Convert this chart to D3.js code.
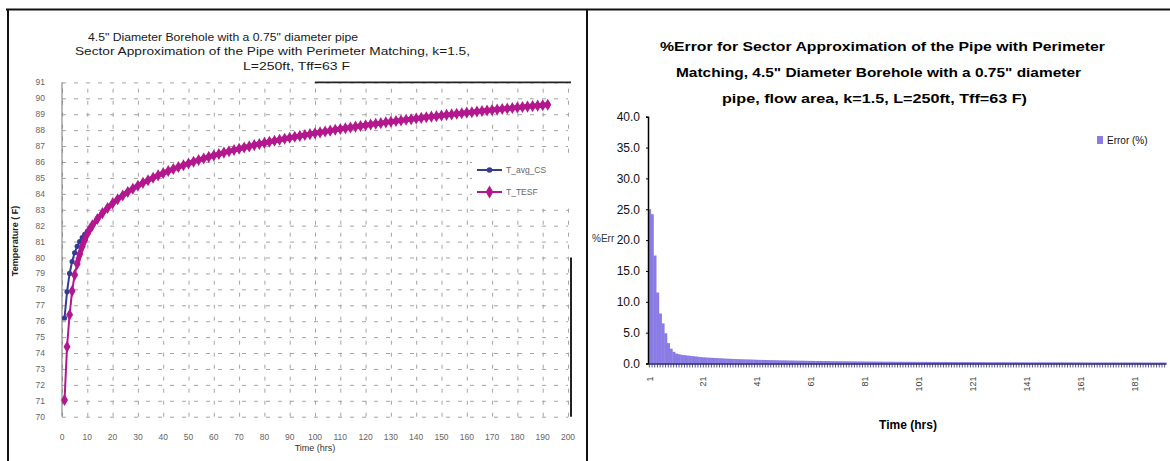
<!DOCTYPE html>
<html>
<head>
<meta charset="utf-8">
<script src="https://cdn.jsdelivr.net/npm/d3@7"></script>
<style>
    body { margin: 0; background: #fff; }
    svg { display: block; font-family: "Liberation Sans", Arial, sans-serif; }
</style>
</head>
<body>
<svg id="chart" width="1170" height="461"></svg>
<script>
// left chart: borehole temperature vs time
var tempHours = [1, 2, 3, 4, 5, 6, 7, 8, 9, 10, 11, 12].concat(d3.range(14, 193, 2));

var tAvgCS = [
    76.2, 77.85, 79.0, 79.75, 80.3, 80.7, 81.0, 81.25, 81.45, 81.65, 81.85, 82.05,
    82.45, 82.81, 83.13, 83.42, 83.68, 83.92, 84.14, 84.34, 84.53, 84.71,
    84.87, 85.03, 85.18, 85.32, 85.45, 85.58, 85.70, 85.82, 85.93, 86.04,
    86.14, 86.24, 86.34, 86.43, 86.52, 86.61, 86.69, 86.77, 86.85, 86.93,
    87.00, 87.08, 87.15, 87.22, 87.29, 87.35, 87.42, 87.48, 87.54, 87.60,
    87.66, 87.72, 87.77, 87.83, 87.88, 87.94, 87.99, 88.04, 88.09, 88.14,
    88.19, 88.24, 88.28, 88.33, 88.37, 88.42, 88.46, 88.51, 88.55, 88.59,
    88.63, 88.67, 88.71, 88.75, 88.79, 88.83, 88.87, 88.90, 88.94, 88.98,
    89.01, 89.05, 89.08, 89.12, 89.15, 89.19, 89.22, 89.25, 89.28, 89.32,
    89.35, 89.38, 89.41, 89.44, 89.47, 89.50, 89.53, 89.56, 89.59, 89.62
];

var tTesf = [
    71.05, 74.4, 76.4, 77.9, 78.9, 79.6, 80.2, 80.7, 81.1, 81.5, 81.78, 82.02,
    82.42, 82.79, 83.11, 83.40, 83.66, 83.90, 84.12, 84.32, 84.51, 84.69,
    84.85, 85.01, 85.16, 85.30, 85.43, 85.56, 85.68, 85.80, 85.91, 86.02,
    86.12, 86.22, 86.32, 86.41, 86.50, 86.59, 86.67, 86.75, 86.83, 86.91,
    86.98, 87.06, 87.13, 87.20, 87.27, 87.33, 87.40, 87.46, 87.52, 87.58,
    87.64, 87.70, 87.75, 87.81, 87.86, 87.92, 87.97, 88.02, 88.07, 88.12,
    88.17, 88.22, 88.26, 88.31, 88.35, 88.40, 88.44, 88.49, 88.53, 88.57,
    88.61, 88.65, 88.69, 88.73, 88.77, 88.81, 88.85, 88.88, 88.92, 88.96,
    88.99, 89.03, 89.06, 89.10, 89.13, 89.17, 89.20, 89.23, 89.26, 89.30,
    89.33, 89.36, 89.39, 89.42, 89.45, 89.48, 89.51, 89.54, 89.57, 89.60
];

var tempTicks = [70, 71, 72, 73, 74, 75, 76, 77, 78, 79, 80, 81, 82, 83, 84, 85, 86, 87, 88, 89, 90, 91];
var timeTicks = [0, 10, 20, 30, 40, 50, 60, 70, 80, 90, 100, 110, 120, 130, 140, 150, 160, 170, 180, 190, 200];
var tempSeries = ["T_avg_CS", "T_TESF"];

// right chart: % error per hour
var errValues = [
    25.0, 24.2, 17.5, 11.5, 8.1, 6.5, 4.9, 3.3, 2.4, 1.9, 1.6, 1.5, 1.4, 1.35, 1.3, 1.25, 1.2, 1.15, 1.1, 1.05,
    1.0, 0.98, 0.95, 0.92, 0.9, 0.88, 0.85, 0.83, 0.8, 0.78, 0.76, 0.74, 0.72, 0.7, 0.69, 0.68, 0.66, 0.65, 0.64, 0.62,
    0.6, 0.59, 0.58, 0.57, 0.56, 0.55, 0.54, 0.53, 0.52, 0.51, 0.5, 0.49, 0.48, 0.48, 0.47, 0.46, 0.45, 0.45, 0.44, 0.43,
    0.43, 0.42, 0.41, 0.41, 0.4, 0.4, 0.39, 0.38, 0.38, 0.37, 0.37, 0.36, 0.36, 0.35, 0.35, 0.34, 0.34, 0.33, 0.33, 0.33,
    0.32, 0.32, 0.31, 0.31, 0.31, 0.3, 0.3, 0.3, 0.29, 0.29, 0.29, 0.28, 0.28, 0.28, 0.28, 0.27, 0.27, 0.27, 0.27, 0.26,
    0.26, 0.26, 0.26, 0.25, 0.25, 0.25, 0.25, 0.25, 0.24, 0.24, 0.24, 0.24, 0.24, 0.23, 0.23, 0.23, 0.23, 0.23, 0.23, 0.22,
    0.22, 0.22, 0.22, 0.22, 0.22, 0.21, 0.21, 0.21, 0.21, 0.21, 0.21, 0.21, 0.2, 0.2, 0.2, 0.2, 0.2, 0.2, 0.2, 0.2,
    0.19, 0.19, 0.19, 0.19, 0.19, 0.19, 0.19, 0.19, 0.19, 0.19, 0.19, 0.19, 0.19, 0.19, 0.18, 0.18, 0.18, 0.18, 0.18, 0.18,
    0.18, 0.18, 0.17, 0.17, 0.17, 0.17, 0.17, 0.17, 0.17, 0.17, 0.17, 0.17, 0.17, 0.17, 0.17, 0.17, 0.17, 0.17, 0.17, 0.17,
    0.17, 0.17, 0.17, 0.16, 0.16, 0.16, 0.16, 0.16, 0.16, 0.16, 0.16, 0.16
];
var errHours = errValues.map(function(d, i) { return i + 1; });
var errTickLabels = [1, 21, 41, 61, 81, 101, 121, 141, 161, 181];
var errTicks = [0, 5, 10, 15, 20, 25, 30, 35, 40];

var BLUE = "#353b95";
var PINK = "#b3178e";
var LAVENDER = "#8a7ce4";

var svg = d3.select("#chart");

// outer frame of the scanned page
svg.append("line").attr("x1", 6).attr("x2", 1170).attr("y1", 9.5).attr("y2", 9.5)
    .attr("stroke", "#111").attr("stroke-width", 2);
svg.append("line").attr("x1", 8).attr("x2", 8).attr("y1", 9).attr("y2", 461)
    .attr("stroke", "#111").attr("stroke-width", 2);
svg.append("line").attr("x1", 587).attr("x2", 587).attr("y1", 9).attr("y2", 461)
    .attr("stroke", "#111").attr("stroke-width", 2);

function title(lines, size, weight, color) {
    lines.forEach(function(l) {
        var t = svg.append("text")
            .attr("x", l.x)
            .attr("y", l.y)
            .attr("font-size", size)
            .attr("font-weight", weight)
            .attr("fill", color)
            .text(l.text);
        if (l.len) t.attr("textLength", l.len).attr("lengthAdjust", "spacingAndGlyphs");
    });
}

function tempChart() {
    var x = d3.scaleLinear().domain([0, 200]).range([62, 568]);
    var y = d3.scaleLinear().domain([70, 91]).range([416.7, 82.4]);
    var g = svg.append("g");

    title([
        { x: 88, y: 41, text: "4.5\" Diameter Borehole with a 0.75\" diameter pipe", len: 270 },
        { x: 75, y: 55, text: "Sector Approximation of the Pipe with Perimeter Matching, k=1.5,", len: 395 },
        { x: 243, y: 70, text: "L=250ft, Tff=63 F", len: 107 }
    ], 11, "normal", "#1a1a1a");

    // grid
    g.append("g")
        .attr("transform", "translate(" + x(0) + ",0)")
        .call(d3.axisLeft(y).tickValues(tempTicks).tickSize(-(x(200) - x(0))).tickFormat(""))
        .call(function(a) {
            a.select(".domain").remove();
            a.selectAll("line").attr("stroke", "#a4a4a4").attr("stroke-dasharray", "4,8");
        });
    g.append("g")
        .attr("transform", "translate(0," + y(70) + ")")
        .call(d3.axisBottom(x).tickValues(timeTicks).tickSize(-(y(70) - y(91))).tickFormat(""))
        .call(function(a) {
            a.select(".domain").remove();
            a.selectAll("line").attr("stroke", "#a4a4a4").attr("stroke-dasharray", "4,8");
        });

    // darker pieces of the plot border that survived the scan
    g.append("line").attr("x1", x(100)).attr("x2", x(200) + 3).attr("y1", y(91)).attr("y2", y(91))
        .attr("stroke", "#222").attr("stroke-width", 1.6);
    g.append("line").attr("x1", x(200) + 3).attr("x2", x(200) + 3).attr("y1", y(80)).attr("y2", y(70))
        .attr("stroke", "#222").attr("stroke-width", 2);
    g.append("line").attr("x1", x(0)).attr("x2", x(0)).attr("y1", y(91)).attr("y2", y(70))
        .attr("stroke", "#777").attr("stroke-width", 1);

    // tick labels
    g.selectAll(".ylab")
        .data(tempTicks)
        .enter()
        .append("text")
        .attr("x", 45)
        .attr("y", function(d) { return y(d) + 3; })
        .attr("text-anchor", "end")
        .attr("font-size", 8.5)
        .attr("fill", "#666")
        .text(function(d) { return d; });
    g.selectAll(".xlab")
        .data(timeTicks)
        .enter()
        .append("text")
        .attr("x", function(d) { return x(d); })
        .attr("y", 440)
        .attr("text-anchor", "middle")
        .attr("font-size", 8.5)
        .attr("fill", "#666")
        .text(function(d) { return d; });

    g.append("text")
        .attr("x", x(100))
        .attr("y", 451)
        .attr("text-anchor", "middle")
        .attr("font-size", 9)
        .attr("fill", "#333")
        .text("Time (hrs)");
    g.append("text")
        .attr("transform", "translate(18,241) rotate(-90)")
        .attr("text-anchor", "middle")
        .attr("font-size", 9)
        .attr("font-weight", "bold")
        .attr("fill", "#222")
        .text("Temperature ( F)");

    var line = d3.line()
        .x(function(d) { return x(d[0]); })
        .y(function(d) { return y(d[1]); });

    var blue = tempHours.map(function(h, i) { return [h, tAvgCS[i]]; });
    var pink = tempHours.map(function(h, i) { return [h, tTesf[i]]; });

    g.append("path").attr("d", line(blue)).attr("fill", "none").attr("stroke", BLUE).attr("stroke-width", 2);
    g.selectAll(".bdot")
        .data(blue)
        .enter()
        .append("circle")
        .attr("cx", function(d) { return x(d[0]); })
        .attr("cy", function(d) { return y(d[1]); })
        .attr("r", 2.6)
        .attr("fill", BLUE);

    // markers overlap into a thick band, as in the original
    g.append("path").attr("d", line(pink.slice(5))).attr("fill", "none").attr("stroke", PINK)
        .attr("stroke-width", 5).attr("stroke-linecap", "round");
    g.append("path").attr("d", line(pink)).attr("fill", "none").attr("stroke", PINK).attr("stroke-width", 2);
    g.selectAll(".pdot")
        .data(pink)
        .enter()
        .append("path")
        .attr("d", d3.symbol(d3.symbolDiamond, 42))
        .attr("transform", function(d) { return "translate(" + x(d[0]) + "," + y(d[1]) + ")"; })
        .attr("fill", PINK);

    // legend
    var lg = g.append("g").attr("transform", "translate(472,160)");
    lg.append("rect").attr("width", 98).attr("height", 43).attr("fill", "#fff");
    tempSeries.forEach(function(name, i) {
        var c = i === 0 ? BLUE : PINK;
        var yy = 10 + i * 22;
        lg.append("line").attr("x1", 5).attr("x2", 30).attr("y1", yy).attr("y2", yy)
            .attr("stroke", c).attr("stroke-width", 2);
        if (i === 0) {
            lg.append("circle").attr("cx", 17.5).attr("cy", yy).attr("r", 2.8).attr("fill", c);
        } else {
            lg.append("path").attr("d", d3.symbol(d3.symbolDiamond, 50))
                .attr("transform", "translate(17.5," + yy + ")").attr("fill", c);
        }
        lg.append("text").attr("x", 34).attr("y", yy + 3)
            .attr("font-size", 8.5).attr("fill", "#666").text(name);
    });
}

function errorChart() {
    var x = d3.scaleBand().domain(errHours).range([648, 1166]).paddingInner(0).paddingOuter(0);
    var y = d3.scaleLinear().domain([0, 40]).range([363.5, 116.7]);
    var g = svg.append("g");

    title([
        { x: 660, y: 51, text: "%Error for Sector Approximation of the Pipe with Perimeter", len: 445 },
        { x: 676, y: 77, text: "Matching,  4.5\" Diameter Borehole with a 0.75\" diameter", len: 405 },
        { x: 722, y: 103, text: "pipe, flow area,  k=1.5, L=250ft, Tff=63 F)", len: 305 }
    ], 13.5, "bold", "#000");

    g.selectAll("rect.bar")
        .data(errValues)
        .enter()
        .append("rect")
        .attr("class", "bar")
        .attr("x", function(d, i) { return x(errHours[i]); })
        .attr("y", function(d) { return y(d); })
        .attr("width", x.bandwidth() + 0.4)
        .attr("height", function(d) { return y(0) - y(d); })
        .attr("fill", LAVENDER);

    g.append("g")
        .attr("transform", "translate(" + x.range()[0] + ",0)")
        .call(d3.axisLeft(y).tickValues(errTicks).tickSize(2).tickPadding(6).tickFormat(d3.format(".1f")))
        .call(function(a) {
            a.select(".domain").attr("stroke", "#000").attr("stroke-width", 1.5);
            a.selectAll("text").attr("font-size", 12).attr("fill", "#111")
                .attr("font-family", "\"Liberation Sans\", Arial, sans-serif");
        });

    g.append("g")
        .attr("transform", "translate(0," + y(0) + ")")
        .call(d3.axisBottom(x).tickSize(4).tickSizeOuter(0)
            .tickFormat(function(d) { return errTickLabels.indexOf(d) >= 0 ? d : ""; }))
        .call(function(a) {
            a.select(".domain").attr("stroke", "#2a2a60").attr("stroke-width", 1.5);
            a.selectAll("line").attr("stroke", "#2a2a70").attr("stroke-width", 0.8);
            a.selectAll("text")
                .attr("transform", "rotate(-90)")
                .attr("text-anchor", "end")
                .attr("x", -13)
                .attr("y", 0)
                .attr("dy", "0.35em")
                .attr("font-size", 9)
                .attr("fill", "#444")
                .attr("font-family", "\"Liberation Sans\", Arial, sans-serif");
        });

    g.append("text")
        .attr("x", 908)
        .attr("y", 429)
        .attr("text-anchor", "middle")
        .attr("font-size", 12)
        .attr("font-weight", "bold")
        .text("Time (hrs)");

    g.append("text")
        .attr("x", 592)
        .attr("y", 242)
        .attr("font-size", 10)
        .attr("fill", "#333")
        .text("%Err");

    g.append("rect").attr("x", 1097).attr("y", 136).attr("width", 6).attr("height", 8).attr("fill", LAVENDER);
    g.append("text").attr("x", 1107).attr("y", 144).attr("font-size", 10).attr("fill", "#111").text("Error (%)");
}

tempChart();
errorChart();
</script>
</body>
</html>
